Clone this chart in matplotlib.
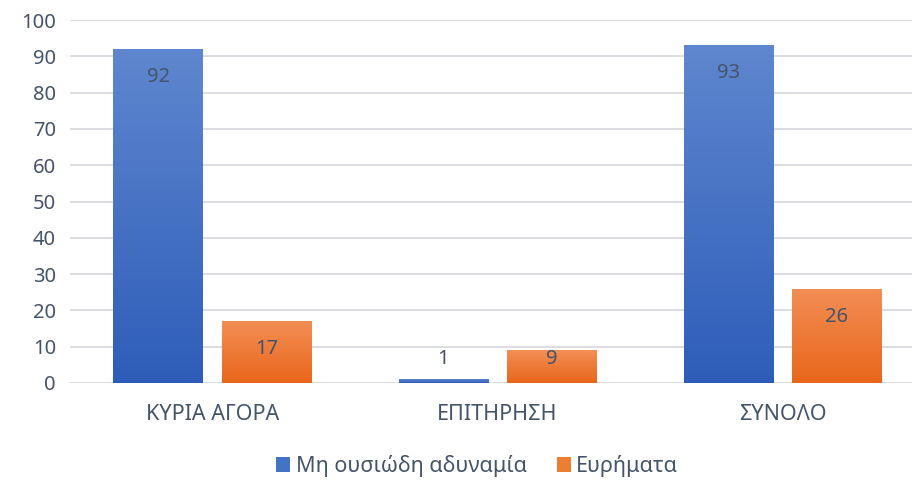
import numpy as np
import matplotlib.pyplot as plt
from matplotlib.colors import LinearSegmentedColormap
from matplotlib.patches import Patch

# data
categories = ['ΚΥΡΙΑ ΑΓΟΡΑ', 'ΕΠΙΤΗΡΗΣΗ', 'ΣΥΝΟΛΟ']
weakness = [92, 1, 93]
findings = [17, 9, 26]
series_names = ['Μη ουσιώδη αδυναμία', 'Ευρήματα']

plt.rcParams['font.family'] = ['Noto Sans', 'DejaVu Sans']
text_color = '#44546a'

blue_cmap = LinearSegmentedColormap.from_list('b', ['#2e5db9', '#5f87cf'])
orange_cmap = LinearSegmentedColormap.from_list('o', ['#e8661b', '#f38e55'])

fig = plt.figure(figsize=(9.14, 4.82), dpi=100)
ax = fig.add_axes([70 / 914, 1 - 383 / 482, 842 / 914, 363 / 482])

x = np.arange(len(categories))
width = 0.315
offset = 0.19
grad = np.linspace(0, 1, 256).reshape(-1, 1)

for vals, dx, cmap in [(weakness, -offset, blue_cmap), (findings, offset, orange_cmap)]:
    bars = ax.bar(x + dx, vals, width, color='none', zorder=3)
    for bar, v in zip(bars, vals):
        x0 = bar.get_x()
        im = ax.imshow(grad, cmap=cmap, origin='lower', aspect='auto',
                       extent=[x0, x0 + width, 0, v], zorder=3)
        im.set_clip_path(bar)
        ax.text(x0 + width / 2, max(v - 7.7, 6.6), str(v), ha='center', va='center',
                fontsize=14.5, color=text_color, zorder=4)

ax.set_xlim(-0.5, 2.454)
ax.set_ylim(0, 100)
ax.set_yticks(range(0, 101, 10))
ax.set_xticks(x)
ax.set_xticklabels(categories, fontsize=15.5)
ax.yaxis.grid(True, color='#dadde2', linewidth=1.4, zorder=0)
ax.set_axisbelow(True)
for s in ax.spines.values():
    s.set_visible(False)
ax.tick_params(axis='both', length=0, labelsize=14.5, colors=text_color)
ax.tick_params(axis='x', labelsize=15.5, pad=15)
ax.tick_params(axis='y', pad=10)

handles = [Patch(facecolor='#4472c4'), Patch(facecolor='#ed7d31')]
fig.legend(handles, series_names, loc='center', bbox_to_anchor=(0.522, 1 - 466 / 482),
           ncol=2, frameon=False, fontsize=15.5, labelcolor=text_color,
           handlelength=0.65, handleheight=0.65, handletextpad=0.25, columnspacing=1.4)

fig.savefig('out.png', dpi=100)
